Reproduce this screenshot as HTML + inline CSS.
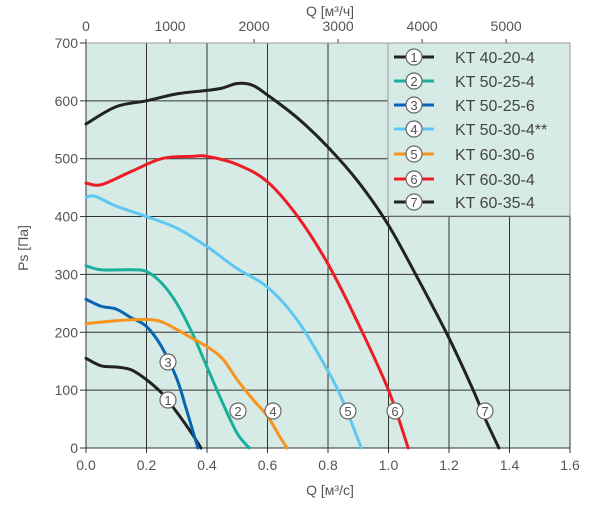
<!DOCTYPE html>
<html><head><meta charset="utf-8"><style>
html,body{margin:0;padding:0;background:#fff;}
svg{display:block;font-family:"Liberation Sans",sans-serif;}
</style></head><body>
<svg id="s" width="600" height="505" viewBox="0 0 600 505" xmlns="http://www.w3.org/2000/svg">
<rect x="86" y="43" width="484" height="405" fill="#d6ebe6"/>
<g id="grid" stroke="#333" stroke-width="1"></g>
<g id="curves" fill="none" stroke-width="3" stroke-linecap="round"></g>
<g id="lab"></g>
<rect x="388" y="43" width="182" height="173" fill="#d6ebe6" stroke="#999" stroke-width="1"/>
<g id="leg"></g>
<g fill="#555" font-size="14" id="axt"></g>
<text x="330" y="495" font-size="14" fill="#555" text-anchor="middle">Q [м³/с]</text>
<text x="330" y="16" font-size="14" fill="#555" text-anchor="middle">Q [м³/ч]</text>
<text transform="translate(28,248) rotate(-90)" font-size="14" fill="#555" text-anchor="middle">Ps [Па]</text>
</svg>
<script>
var NS="http://www.w3.org/2000/svg";
function X(q){return 86+q*302.5}function Y(p){return 448-p*0.5786}
function el(t,a,par,txt){var e=document.createElementNS(NS,t);for(var k in a)e.setAttribute(k,a[k]);if(txt!=null)e.textContent=txt;document.getElementById(par).appendChild(e);return e}
for(var i=0;i<=8;i++){var x=X(i*0.2);el('line',{x1:x,y1:43,x2:x,y2:448},'grid');el('line',{x1:x,y1:448,x2:x,y2:453},'grid');
el('text',{x:x,y:470,'text-anchor':'middle'},'axt',(i*0.2).toFixed(1));}
for(var j=0;j<=7;j++){var y=Y(j*100);el('line',{x1:86,y1:y,x2:570,y2:y},'grid');el('line',{x1:80,y1:y,x2:86,y2:y},'grid');
el('text',{x:78,y:y+5,'text-anchor':'end'},'axt',j*100);}
for(var k=0;k<=5;k++){var x=86+k*1000/3600*302.5;el('line',{x1:x,y1:39,x2:x,y2:43},'grid');el('text',{x:x,y:31,'text-anchor':'middle'},'axt',k*1000);}
el('line',{x1:86,y1:43,x2:570,y2:43,stroke:'#999'},'grid');
function path(pts){var P=pts.map(function(p){return[X(p[0]),Y(p[1])]});var d='M'+P[0][0]+','+P[0][1];
for(var i=0;i<P.length-1;i++){var p0=P[i-1]||P[i],p1=P[i],p2=P[i+1],p3=P[i+2]||p2;
d+='C'+(p1[0]+(p2[0]-p0[0])/6)+','+(p1[1]+(p2[1]-p0[1])/6)+' '+(p2[0]-(p3[0]-p1[0])/6)+','+(p2[1]-(p3[1]-p1[1])/6)+' '+p2[0]+','+p2[1];}return d}
var C=[
['#222',[[0,155],[0.05,142],[0.1,140],[0.15,135],[0.2,118],[0.25,95],[0.3,62],[0.35,25],[0.38,0]]],
['#1aaf9b',[[0,315],[0.05,308],[0.15,308],[0.2,305],[0.25,285],[0.3,250],[0.35,200],[0.4,140],[0.45,80],[0.5,25],[0.54,0]]],
['#0a64b4',[[0,257],[0.05,245],[0.1,240],[0.15,225],[0.2,210],[0.25,175],[0.3,120],[0.33,70],[0.37,0]]],
['#5ec8f2',[[0,433],[0.03,435],[0.1,418],[0.2,400],[0.3,380],[0.4,348],[0.5,310],[0.6,278],[0.7,220],[0.8,133],[0.85,80],[0.91,0]]],
['#f7941d',[[0,215],[0.1,220],[0.2,222],[0.25,218],[0.3,205],[0.35,190],[0.4,175],[0.45,155],[0.5,118],[0.55,85],[0.6,55],[0.64,20],[0.665,0]]],
['#ee1c25',[[0,458],[0.05,455],[0.15,478],[0.25,500],[0.35,504],[0.4,504],[0.5,490],[0.6,460],[0.7,400],[0.8,318],[0.9,215],[1.0,100],[1.065,0]]],
['#222',[[0,560],[0.1,590],[0.2,600],[0.3,612],[0.4,618],[0.45,622],[0.5,630],[0.55,627],[0.6,610],[0.7,570],[0.8,520],[0.9,460],[1.0,385],[1.1,290],[1.2,190],[1.28,100],[1.32,50],[1.365,0]]]];
C.forEach(function(c){el('path',{d:path(c[1]),stroke:c[0]},'curves')});
function badge(par,x,y,n){el('circle',{cx:x,cy:y,r:8,fill:'#fff',stroke:'#666','stroke-width':1.2},par);
el('text',{x:x,y:y+5,'text-anchor':'middle','font-size':13,fill:'#555'},par,n)}
[[168,362,3],[168,400,1],[238,411,2],[273,411,4],[348,411,5],[395,411,6],[485,411,7]].forEach(function(b){badge('lab',b[0],b[1],b[2])});
var names=['KT 40-20-4','KT 50-25-4','KT 50-25-6','KT 50-30-4**','KT 60-30-6','KT 60-30-4','KT 60-35-4'];
var cols=['#222','#1aaf9b','#0a64b4','#5ec8f2','#f7941d','#ee1c25','#222'];
var ys=[57,81,105,129,154,179,202];
for(var i=0;i<7;i++){el('line',{x1:394,y1:ys[i],x2:434,y2:ys[i],stroke:cols[i],'stroke-width':3},'leg');badge('leg',414,ys[i],i+1);
el('text',{x:455,y:ys[i]+6,'font-size':16,fill:'#444'},'leg',names[i]);}
</script>
</body></html>
